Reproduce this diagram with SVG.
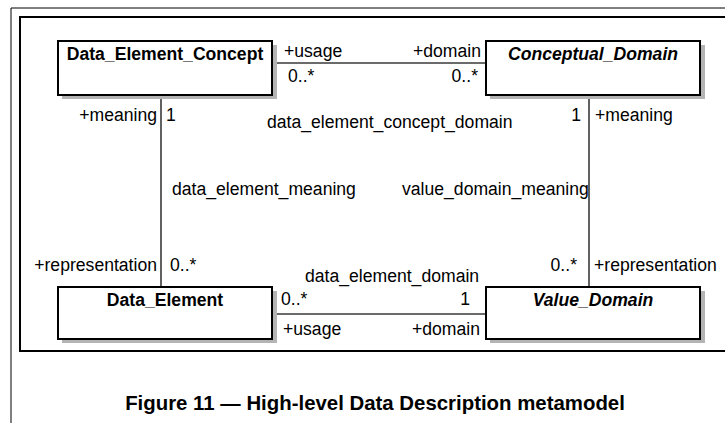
<svg xmlns="http://www.w3.org/2000/svg" width="725" height="423" viewBox="0 0 725 423">
<style>
.t{font-family:"Liberation Sans",Arial,sans-serif;font-size:17.6px;fill:#000}
.b{font-weight:bold;text-anchor:middle}
.i{font-style:italic}
.e{text-anchor:end}
.box{fill:#fff;stroke:#000;stroke-width:2}
.sh{fill:#b4b4b4}
.ln{stroke:#3a3a3a;stroke-width:1.6;fill:none}
</style>
<rect width="725" height="423" fill="#fff"/>
<path d="M11 423 V8 H730" fill="none" stroke="#000" stroke-width="1"/>
<path d="M730 17 H20 V351 H730" fill="none" stroke="#000" stroke-width="2"/>
<g id="connectors">
<line class="ln" x1="272" y1="63" x2="486" y2="63"/>
<line class="ln" x1="161" y1="95" x2="161" y2="287"/>
<line class="ln" x1="589" y1="95" x2="589" y2="287"/>
<line class="ln" x1="272" y1="314" x2="486" y2="314"/>
<text class="t" x="284" y="57">+usage</text>
<text class="t e" x="481" y="57">+domain</text>
<text class="t" x="288" y="82">0..*</text>
<text class="t e" x="478" y="82">0..*</text>
<text class="t e" x="157" y="121">+meaning</text>
<text class="t" x="166" y="121">1</text>
<text class="t" x="267" y="128">data_element_concept_domain</text>
<text class="t e" x="581" y="121">1</text>
<text class="t" x="595" y="121">+meaning</text>
<text class="t" x="172" y="195">data_element_meaning</text>
<text class="t" x="402" y="195">value_domain_meaning</text>
<text class="t e" x="157" y="271">+representation</text>
<text class="t" x="170" y="271">0..*</text>
<text class="t e" x="577" y="271">0..*</text>
<text class="t" x="594" y="271">+representation</text>
<text class="t" x="305" y="282">data_element_domain</text>
<text class="t" x="281" y="305">0..*</text>
<text class="t e" x="470" y="305">1</text>
<text class="t" x="283" y="335">+usage</text>
<text class="t e" x="480" y="335">+domain</text>
</g>
<g id="data_element_concept">
<rect class="sh" x="62" y="45" width="215" height="54"/>
<rect class="box" x="58" y="41" width="214" height="54"/>
<text class="t b" x="165" y="60">Data_Element_Concept</text>
</g>
<g id="conceptual_domain">
<rect class="sh" x="490" y="45" width="215" height="54"/>
<rect class="box" x="486" y="41" width="214" height="54"/>
<text class="t b i" x="593" y="60">Conceptual_Domain</text>
</g>
<g id="data_element">
<rect class="sh" x="62" y="291" width="215" height="52"/>
<rect class="box" x="58" y="287" width="214" height="52"/>
<text class="t b" x="165" y="306">Data_Element</text>
</g>
<g id="value_domain">
<rect class="sh" x="490" y="291" width="215" height="52"/>
<rect class="box" x="486" y="287" width="214" height="52"/>
<text class="t b i" x="593" y="306">Value_Domain</text>
</g>
<text class="t b" x="375" y="410" style="font-size:20.4px">Figure 11 — High-level Data Description metamodel</text>
</svg>
